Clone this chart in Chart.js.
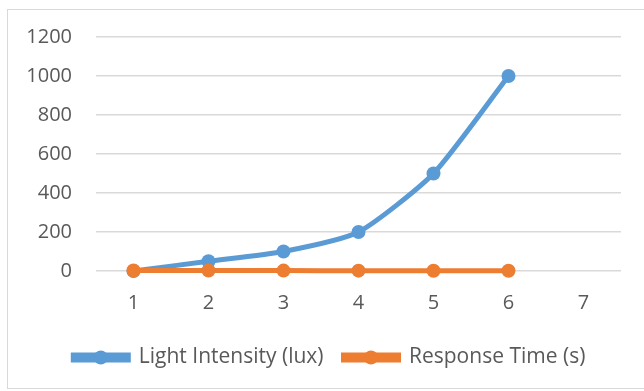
<!DOCTYPE html>
<html lang="en">
<head>
    <meta charset="UTF-8">
    <title>Light Intensity vs Response Time</title>
    <script src="https://cdn.jsdelivr.net/npm/chart.js"></script>
    <style>
        body { margin: 0; background: #fff; }
        #box {
            position: absolute; left: 7px; top: 9px;
            width: 640px; height: 380px;
            border: 1px solid #d9d9d9; box-sizing: border-box;
            overflow: hidden;
        }
        #wrap { position: absolute; left: 0; top: -9px; width: 638px; height: 387px; }
    </style>
</head>
<body>
    <div id="box"><div id="wrap"><canvas id="chart"></canvas></div></div>
    <script>
        // data
        const categories = ['1', '2', '3', '4', '5', '6', '7'];
        const lightIntensity = [0, 50, 100, 200, 500, 1000, null];
        const responseTime = [2.5, 2.2, 2, 1.8, 1.5, 1.2, null];

        const blue = '#5b9bd5';
        const orange = '#ed7d31';
        const font = { family: 'Open Sans', size: 20 };
        const legendShift = 23;

        // Excel centres the legend a bit further right; also puts a dot on each legend line
        const legendTweak = {
            id: 'legendTweak',
            afterLayout(chart) {
                const lg = chart.legend;
                if (!lg) return;
                lg.left += legendShift;
                lg.right += legendShift;
                (lg.legendHitBoxes || []).forEach(hb => { hb.left += legendShift; });
            },
            afterDraw(chart) {
                const lg = chart.legend;
                if (!lg || !lg.legendHitBoxes) return;
                const ctx = chart.ctx;
                const bw = lg.options.labels.boxWidth;
                lg.legendHitBoxes.forEach((hb, i) => {
                    const item = lg.legendItems[i];
                    ctx.save();
                    ctx.fillStyle = chart.data.datasets[item.datasetIndex].borderColor;
                    ctx.beginPath();
                    ctx.arc(hb.left + bw / 2, hb.top + hb.height / 2, 7, 0, Math.PI * 2);
                    ctx.fill();
                    ctx.restore();
                });
            }
        };

        new Chart(document.getElementById('chart'), {
            type: 'line',
            data: {
                labels: categories,
                datasets: [{
                    label: 'Light Intensity (lux)',
                    data: lightIntensity,
                    borderColor: blue,
                    backgroundColor: blue,
                    borderWidth: 5,
                    pointRadius: 7,
                    pointBorderWidth: 0,
                    tension: 0.2,
                    clip: 10,
                    order: 2
                }, {
                    label: 'Response Time (s)',
                    data: responseTime,
                    borderColor: orange,
                    backgroundColor: orange,
                    borderWidth: 5,
                    pointRadius: 7,
                    pointBorderWidth: 0,
                    tension: 0.2,
                    clip: 10,
                    order: 1
                }]
            },
            options: {
                responsive: true,
                maintainAspectRatio: false,
                animation: false,
                layout: { padding: { left: 0, right: 25, top: 1, bottom: 10 } },
                scales: {
                    x: {
                        offset: true,
                        grid: { display: false },
                        border: { display: false },
                        ticks: { color: '#595959', font: font, padding: 12 }
                    },
                    y: {
                        min: 0, max: 1200,
                        afterFit: s => { s.width = 88; },
                        ticks: {
                            stepSize: 200, color: '#595959', font: font, padding: 24,
                            callback: v => String(v)
                        },
                        grid: { color: '#d9d9d9', lineWidth: 1.5, drawTicks: false },
                        border: { display: false }
                    }
                },
                plugins: {
                    tooltip: { enabled: false },
                    legend: {
                        position: 'bottom',
                        labels: {
                            boxWidth: 55, boxHeight: 5,
                            color: '#595959',
                            font: { family: 'Open Sans', size: 21 },
                            padding: 20,
                            sort: (a, b) => a.datasetIndex - b.datasetIndex,
                            // a little extra room between the two entries
                            generateLabels: chart => Chart.defaults.plugins.legend.labels.generateLabels(chart)
                                .map((it, i) => (i === 0 ? Object.assign(it, { text: it.text + '   ' }) : it))
                        }
                    }
                }
            },
            plugins: [legendTweak]
        });
    </script>
</body>
</html>
